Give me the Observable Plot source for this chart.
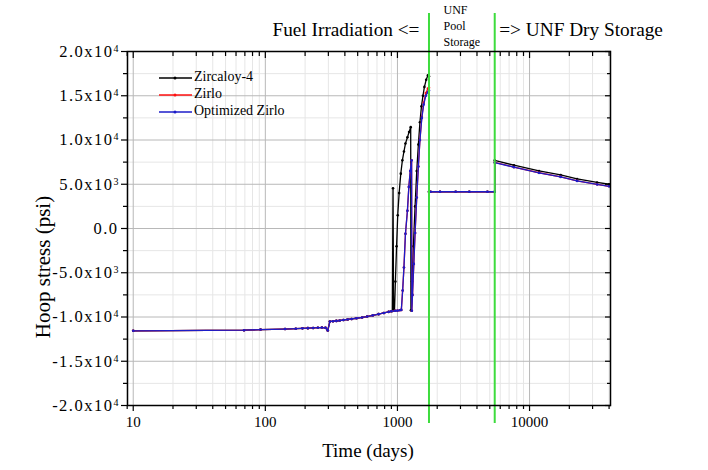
<!DOCTYPE html>
<html><head><meta charset="utf-8">
<script src="https://cdn.jsdelivr.net/npm/d3@7"></script>
<script src="https://cdn.jsdelivr.net/npm/@observablehq/plot@0.6"></script>
<style>body{margin:0;background:#fff} #chart{width:708px;height:470px}</style>
</head><body><div id="chart"></div><script>
// ---- data ----
const seriesNames = ["Zircaloy-4", "Zirlo", "Optimized Zirlo"];
const seriesColors = ["#000000", "#ff1010", "#1c1cc8"];

// shared early irradiation history (days, psi)
const earlyTime   = [10, 69, 92, 141, 170, 191, 210, 230, 250, 268, 285, 297, 308, 325, 345, 365, 390, 420, 450, 490, 540, 590, 650, 720, 790, 860, 900];
const earlyStress = [-11560, -11490, -11420, -11360, -11320, -11280, -11260, -11240, -11210, -11190, -11220, -11520, -10500, -10480, -10440, -10400, -10340, -10280, -10220, -10140, -10050, -9950, -9820, -9680, -9540, -9420, -9350];

// Zircaloy-4 late irradiation
const zircTime   = [915, 926, 935, 950, 965, 985, 1005, 1030, 1060, 1090, 1120, 1150, 1190, 1225, 1260, 1265, 1290, 1320, 1360, 1400, 1440, 1480, 1520, 1560, 1600, 1650, 1700, 1733];
const zircStress = [-9320, 4550, -9300, -9260, -6000, -2000, 1500, 4000, 6200, 7700, 8700, 9600, 10300, 10900, 11450, -9250, -6000, -2000, 2500, 6500, 9500, 12000, 13800, 15000, 16000, 16800, 17300, 17200];
// Zirlo late irradiation
const zirloTime   = [960, 1000, 1040, 1070, 1095, 1120, 1150, 1190, 1220, 1250, 1280, 1285, 1300, 1330, 1360, 1400, 1440, 1480, 1530, 1580, 1640, 1700, 1733];
const zirloStress = [-9300, -9280, -9240, -9200, -7000, -4400, -600, 2000, 4700, 6500, 7700, -9300, -7500, -4000, -500, 3500, 7000, 10000, 12600, 14200, 15300, 15800, 15900];
// Optimized Zirlo late irradiation
const optTime   = [960, 1000, 1040, 1070, 1095, 1120, 1150, 1190, 1220, 1250, 1280, 1285, 1300, 1330, 1360, 1400, 1440, 1480, 1530, 1580, 1640, 1700, 1733];
const optStress = [-9300, -9280, -9240, -9200, -7000, -4400, -600, 2000, 4700, 6500, 7700, -9300, -7500, -4000, -500, 3500, 7000, 10000, 12500, 14000, 15000, 15400, 15600];

// storage (pool then dry)
const storageTime = [1733, 1780, 2100, 2760, 3500, 4800, 5450, 5450, 7620, 11800, 17200, 22900, 32500, 40000];
const zircStorage = [4150, 4150, 4150, 4150, 4150, 4150, 4150, 7700, 7150, 6500, 6050, 5600, 5200, 5000];
const zirloStorage = [4150, 4150, 4150, 4150, 4150, 4150, 4150, 7470, 6940, 6300, 5840, 5390, 4990, 4770];
const optStorage  = [4150, 4150, 4150, 4150, 4150, 4150, 4150, 7450, 6930, 6290, 5830, 5380, 4980, 4760];

// phase boundaries (days)
const phaseBounds = [1733, 5450];

// axis ticks
const xMajor = [10, 100, 1000, 10000];
const xMinor = [9, 20, 30, 40, 50, 60, 70, 80, 90, 200, 300, 400, 500, 600, 700, 800, 900, 2000, 3000, 4000, 5000, 6000, 7000, 8000, 9000, 20000, 30000, 40000];
const yMajor = [-20000, -15000, -10000, -5000, 0, 5000, 10000, 15000, 20000];
const yMinor = [-17500, -12500, -7500, -2500, 2500, 7500, 12500, 17500];
const yTickText = ["-2.0x10|4", "-1.5x10|4", "-1.0x10|4", "-5.0x10|3", "0.0", "5.0x10|3", "1.0x10|4", "1.5x10|4", "2.0x10|4"];

// ---- build tables ----
const mk = (ts, ss) => ts.map((t, i) => ({t, s: ss[i]}));
const series = [
  mk(earlyTime.concat(zircTime, storageTime), earlyStress.concat(zircStress, zircStorage)),
  mk(earlyTime.concat(zirloTime, storageTime), earlyStress.concat(zirloStress, zirloStorage)),
  mk(earlyTime.concat(optTime, storageTime), earlyStress.concat(optStress, optStorage))
];

const font = "Liberation Serif, Times New Roman, serif";
const gridMinor = "#e6e6e6", gridMajor = "#b8b8b8";

const marks = [
  Plot.gridX(xMinor, {stroke: gridMinor, strokeOpacity: 1}),
  Plot.gridY(yMinor, {stroke: gridMinor, strokeOpacity: 1}),
  Plot.gridX(xMajor, {stroke: gridMajor, strokeOpacity: 1}),
  Plot.gridY(yMajor, {stroke: gridMajor, strokeOpacity: 1}),
  Plot.axisX(xMajor, {anchor: "bottom", tickSize: 6, tickPadding: 5, tickFormat: d => String(d), fontSize: 15, label: null, strokeWidth: 1.2}),
  Plot.axisX(xMinor, {anchor: "bottom", tickSize: 4, tickFormat: () => "", label: null, strokeWidth: 1.2}),
  Plot.axisX(xMajor, {anchor: "top", tickSize: -6, tickFormat: () => "", label: null, strokeWidth: 1.2}),
  Plot.axisX(xMinor, {anchor: "top", tickSize: -4, tickFormat: () => "", label: null, strokeWidth: 1.2}),
  Plot.axisY(yMajor, {anchor: "left", tickSize: 6, tickPadding: 3, tickFormat: d => yTickText[yMajor.indexOf(d)], fontSize: 16, label: null, strokeWidth: 1.2}),
  Plot.axisY(yMinor, {anchor: "left", tickSize: 4, tickFormat: () => "", label: null, strokeWidth: 1.2}),
  Plot.axisY(yMajor, {anchor: "right", tickSize: -6, tickFormat: () => "", label: null, strokeWidth: 1.2}),
  Plot.axisY(yMinor, {anchor: "right", tickSize: -4, tickFormat: () => "", label: null, strokeWidth: 1.2}),
];
series.forEach((d, i) => {
  marks.push(Plot.line(d, {x: "t", y: "s", stroke: seriesColors[i], strokeWidth: 1.3}));
  marks.push(Plot.dot(d, {x: "t", y: "s", r: 1.3, fill: seriesColors[i], stroke: "none"}));
});
marks.push(Plot.ruleX(phaseBounds, {stroke: "#3ddc3d", strokeWidth: 2, insetTop: -38, insetBottom: -18}));
marks.push(Plot.frame({stroke: "#000", strokeWidth: 1.5}));

const plot = Plot.plot({
  width: 708, height: 470,
  marginLeft: 127, marginRight: 98, marginTop: 51, marginBottom: 65,
  style: {fontFamily: font, fontSize: "15px", background: "#fff", overflow: "visible"},
  x: {type: "log", domain: [9.05, 41000]},
  y: {domain: [-20000, 20000]},
  marks
});
document.getElementById("chart").appendChild(plot);

const svg = d3.select(plot);
// superscript exponents on y tick labels
svg.selectAll("text").each(function() {
  const el = d3.select(this);
  const txt = el.text();
  if (txt.includes("|") || txt === "0.0") {
    const [base, exp] = txt.split("|");
    el.text(null);
    el.attr("font-size", "16.5px").attr("letter-spacing", "1.5px");
    el.append("tspan").text(base);
    if (exp) el.append("tspan").attr("dy", "-0.5em").attr("font-size", "10px").attr("letter-spacing", "0px").text(exp);
  }
});
const x = plot.scale("x");
const addText = (attrs, s) => {
  const t = svg.append("text").attr("font-family", font).attr("fill", "#000").attr("text-anchor", "start");
  Object.entries(attrs).forEach(([k, v]) => t.attr(k, v));
  return t.text(s);
};

// axis titles
addText({transform: "translate(45,267) rotate(-90)", "text-anchor": "middle", "dominant-baseline": "middle", "font-size": 21}, "Hoop stress (psi)");
addText({x: 368, y: 453, "text-anchor": "middle", "dominant-baseline": "middle", "font-size": 19}, "Time (days)");

// phase annotations
addText({x: x.apply(phaseBounds[0]) - 9, y: 36, "text-anchor": "end", "font-size": 19.3}, "Fuel Irradiation <=");
["UNF", "Pool", "Storage"].forEach((s, i) => addText({x: x.apply(phaseBounds[0]) + 15, y: 14 + i * 16, "font-size": 12}, s));
addText({x: x.apply(phaseBounds[1]) + 5, y: 36, "font-size": 19.3}, "=> UNF Dry Storage");

// legend
seriesNames.forEach((name, i) => {
  const yy = 78 + i * 17;
  svg.append("line").attr("x1", 159).attr("x2", 192).attr("y1", yy).attr("y2", yy).attr("stroke", seriesColors[i]).attr("stroke-width", 1.5);
  svg.append("circle").attr("cx", 175).attr("cy", yy).attr("r", 1.5).attr("fill", seriesColors[i]);
  addText({x: 194, y: yy, "dominant-baseline": "middle", "font-size": 14}, name);
});
</script></body></html>
